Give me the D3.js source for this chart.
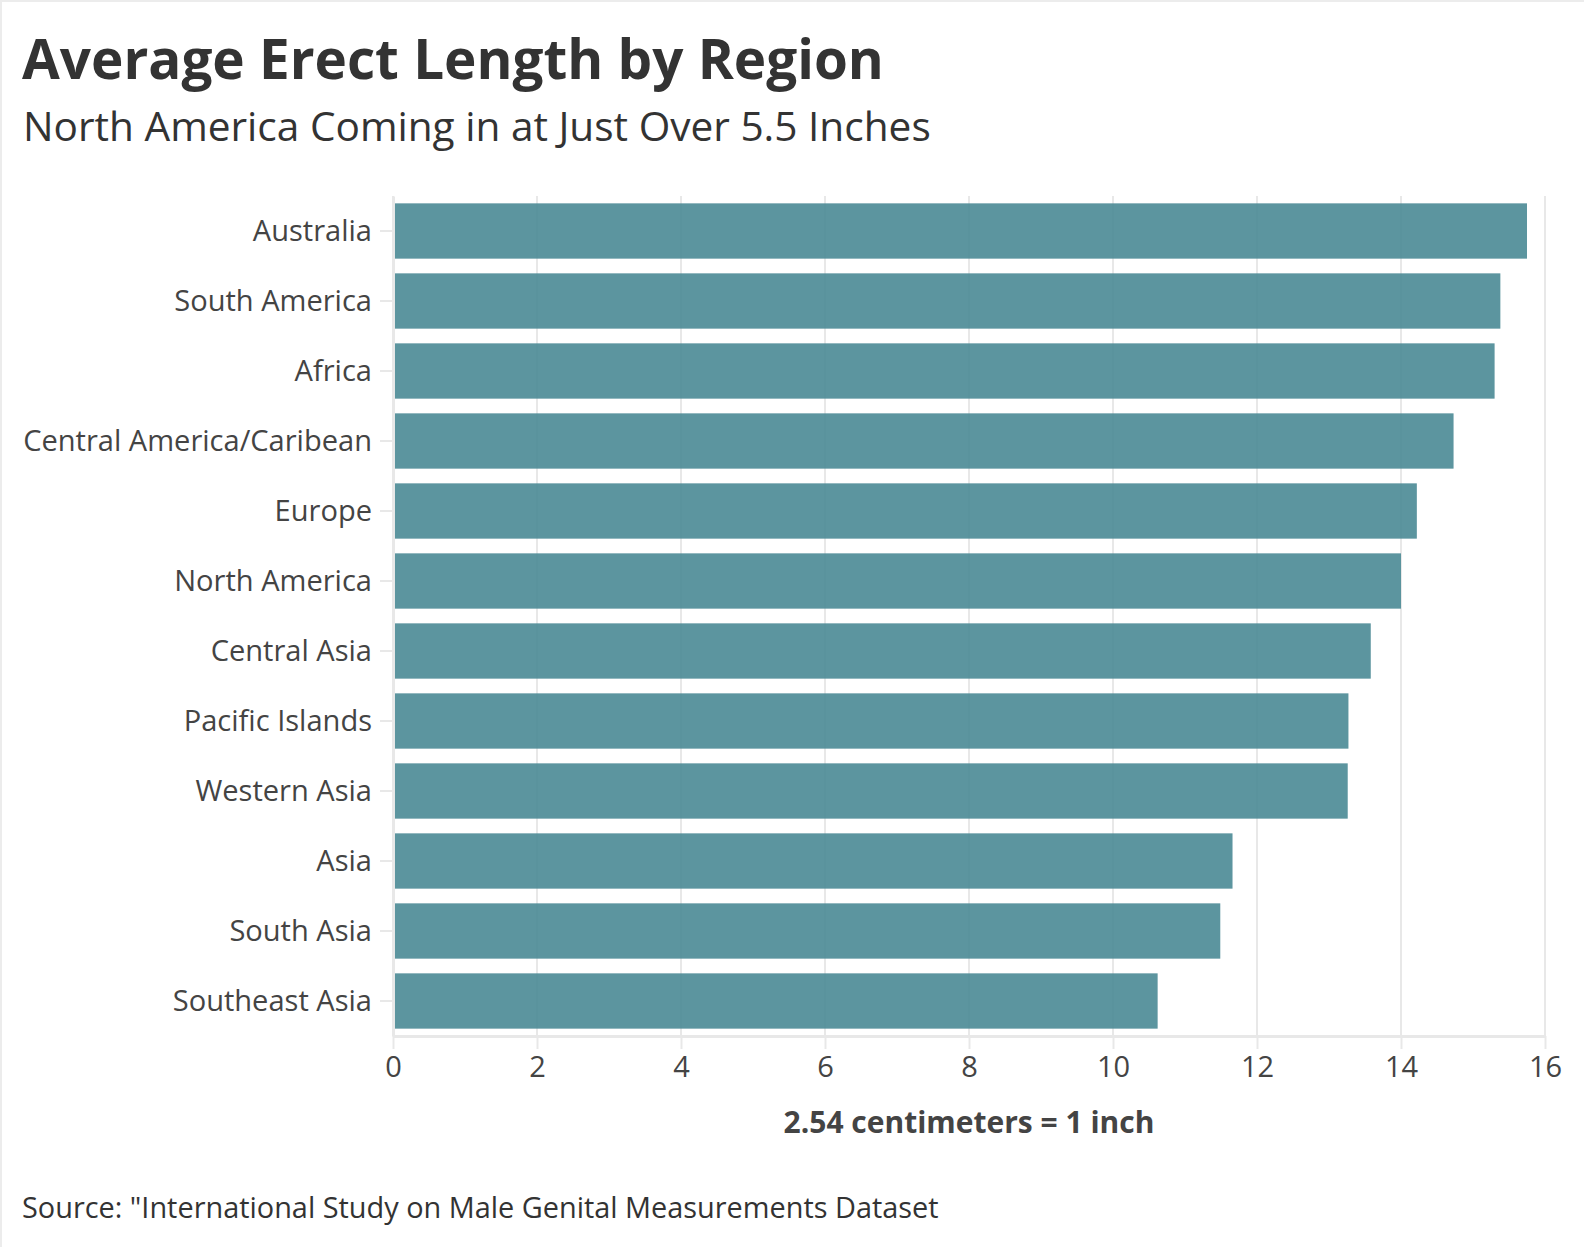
<!DOCTYPE html>
<html>
<head>
<meta charset="utf-8">
<script src="https://cdn.jsdelivr.net/npm/d3@7"></script>
<style>
  body { margin: 0; background: #fff; }
  svg text { font-family: "Open Sans", "Noto Sans", sans-serif; }
</style>
</head>
<body>
<div id="chart"></div>
<script>
// regions, top to bottom
var regions = ['Australia', 'South America', 'Africa', 'Central America/Caribean', 'Europe',
    'North America', 'Central Asia', 'Pacific Islands', 'Western Asia', 'Asia',
    'South Asia', 'Southeast Asia'];
// average erect length, cm
var lengths = [15.75, 15.38, 15.30, 14.73, 14.22, 14.00, 13.58, 13.27, 13.26, 11.66, 11.49, 10.62];
var xTicks = [0, 2, 4, 6, 8, 10, 12, 14, 16];

var data = regions.map(function(r, i) { return { region: r, value: lengths[i] }; });

const width = 1584;
const height = 1247;
const plot = { left: 393, right: 1545, top: 196, bottom: 1036 };

var svg = d3.select('#chart')
    .append('svg')
    .attr('width', width)
    .attr('height', height);

// shrink/grow a text's font so it spans the wanted width
function fitText(sel, w) {
    var size = +sel.attr('font-size');
    var len = sel.node().getComputedTextLength();
    sel.attr('font-size', size * w / len);
    return size * w / len;
}

// thin frame on top and left
svg.append('rect').attr('x', 0).attr('y', 0).attr('width', width).attr('height', 2).attr('fill', '#ececec');
svg.append('rect').attr('x', 0).attr('y', 0).attr('width', 2).attr('height', height).attr('fill', '#ececec');

var x = d3.scaleLinear()
    .domain([0, 16])
    .range([plot.left, plot.right]);

var y = d3.scaleBand()
    .domain(regions)
    .range([plot.top, plot.bottom])
    .paddingInner(0.21)
    .paddingOuter(0.105);

// vertical grid
svg.append('g')
    .selectAll('line')
    .data(xTicks)
    .enter()
    .append('line')
    .attr('x1', d => x(d))
    .attr('x2', d => x(d))
    .attr('y1', plot.top)
    .attr('y2', plot.bottom)
    .attr('stroke', '#e8e8e8')
    .attr('stroke-width', 2);

// bars
svg.selectAll('rect.bar')
    .data(data)
    .enter()
    .append('rect')
    .attr('class', 'bar')
    .attr('x', x(0))
    .attr('y', d => y(d.region))
    .attr('width', d => x(d.value) - x(0))
    .attr('height', y.bandwidth())
    .attr('fill', '#4a8995')
    .attr('fill-opacity', 0.9);

// x axis
var xAxis = svg.append('g')
    .attr('transform', 'translate(0,' + plot.bottom + ')')
    .call(d3.axisBottom(x).tickValues(xTicks).tickSize(13).tickPadding(7).tickSizeOuter(0));
xAxis.select('.domain').attr('stroke', '#e8e8e8').attr('stroke-width', 3);
xAxis.selectAll('.tick line').attr('stroke', '#e8e8e8').attr('stroke-width', 2);
xAxis.selectAll('.tick text')
    .attr('font-size', 29)
    .attr('fill', '#444');

// y axis
var yAxis = svg.append('g')
    .attr('transform', 'translate(' + plot.left + ',0)')
    .call(d3.axisLeft(y).tickSize(13).tickPadding(8).tickSizeOuter(0));
yAxis.select('.domain').attr('stroke', '#e8e8e8').attr('stroke-width', 3);
yAxis.selectAll('.tick line').attr('stroke', '#e8e8e8').attr('stroke-width', 2);
yAxis.selectAll('.tick text')
    .attr('font-size', 26)
    .attr('dy', '0.36em')
    .attr('fill', '#444');
// size labels by the longest one
var longest = yAxis.selectAll('.tick text').filter(d => d === 'Central America/Caribean');
var labelSize = fitText(longest, 349);
yAxis.selectAll('.tick text').attr('font-size', labelSize);

// titles
var title = svg.append('text')
    .attr('x', 22)
    .attr('y', 79)
    .text('Average Erect Length by Region')
    .attr('font-size', 52)
    .attr('font-weight', 'bold')
    .attr('fill', '#333');
fitText(title, 862);

var subtitle = svg.append('text')
    .attr('x', 23)
    .attr('y', 141)
    .text('North America Coming in at Just Over 5.5 Inches')
    .attr('font-size', 36)
    .attr('fill', '#333');
fitText(subtitle, 908);

var axisTitle = svg.append('text')
    .attr('x', (plot.left + plot.right) / 2)
    .attr('y', 1133)
    .attr('text-anchor', 'middle')
    .text('2.54 centimeters = 1 inch')
    .attr('font-size', 28)
    .attr('font-weight', 'bold')
    .attr('fill', '#444');
fitText(axisTitle, 371);

var source = svg.append('text')
    .attr('x', 22)
    .attr('y', 1218)
    .text('Source: "International Study on Male Genital Measurements Dataset')
    .attr('font-size', 26)
    .attr('fill', '#333');
fitText(source, 917);
</script>
</body>
</html>
